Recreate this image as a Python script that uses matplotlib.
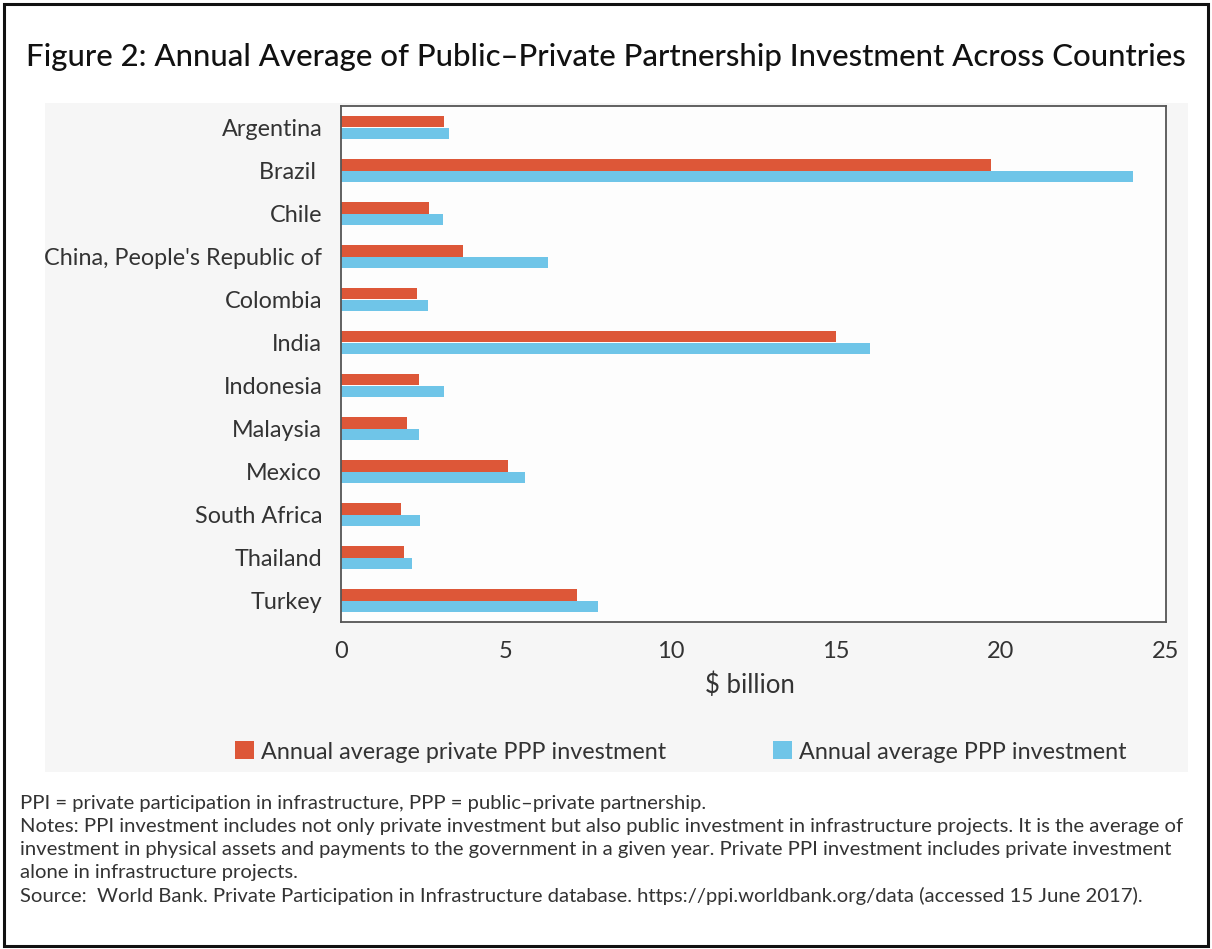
import matplotlib
matplotlib.use("Agg")
import matplotlib.pyplot as plt
from matplotlib.patches import Rectangle
import numpy as np

countries = ["Argentina", "Brazil ", "Chile", "China, People's Republic of", "Colombia",
             "India", "Indonesia", "Malaysia", "Mexico", "South Africa", "Thailand", "Turkey"]
private_ppp = [3.13, 19.7, 2.66, 3.69, 2.29, 15.0, 2.37, 2.0, 5.07, 1.83, 1.92, 7.15]
total_ppp = [3.26, 24.0, 3.1, 6.28, 2.65, 16.04, 3.11, 2.37, 5.59, 2.39, 2.16, 7.78]
xticks = [0, 5, 10, 15, 20, 25]

title = "Figure 2: Annual Average of Public\u2013Private Partnership Investment Across Countries"
legend_labels = ["Annual average private PPP investment", "Annual average PPP investment"]
notes = [
    "PPI = private participation in infrastructure, PPP = public\u2013private partnership.",
    "Notes: PPI investment includes not only private investment but also public investment in infrastructure projects. It is the average of",
    "investment in physical assets and payments to the government in a given year. Private PPI investment includes private investment",
    "alone in infrastructure projects.",
    "Source:  World Bank. Private Participation in Infrastructure database. https://ppi.worldbank.org/data (accessed 15 June 2017).",
]

RED = "#DD5738"
BLUE = "#6FC5E8"
TXT = "#333333"

plt.rcParams['font.family'] = ['Lato', 'DejaVu Sans']

W, H = 1212, 949
fig = plt.figure(figsize=(W / 100, H / 100), dpi=100)
fig.patch.set_facecolor("white")

def fx(px):
    return px / W

def fy(py):
    return 1 - py / H

# outer frame
fig.add_artist(Rectangle((fx(4), fy(946)), fx(1208) - fx(4), fy(4) - fy(946),
                         transform=fig.transFigure, fill=False, edgecolor="#111111", lw=2.2))
# light grey panel behind chart
fig.add_artist(Rectangle((fx(45), fy(772)), fx(1188) - fx(45), fy(103) - fy(772),
                         transform=fig.transFigure, facecolor="#f6f6f6", edgecolor="none", zorder=0))

fig.text(0.5, fy(57), title, ha="center", va="center", fontsize=22.4, color="#111111",
         fontweight="medium")

ax = fig.add_axes([fx(341), fy(622), fx(1166) - fx(341), fy(106) - fy(622)])
ax.set_facecolor("#fdfdfd")
y = np.arange(len(countries))
h = 0.27
ax.barh(y - h / 2, private_ppp, height=h, color=RED, label=legend_labels[0])
ax.barh(y + h / 2, total_ppp, height=h, color=BLUE, label=legend_labels[1])
ax.set_ylim(len(countries) - 0.5, -0.5)
ax.set_xlim(0, 25)
ax.set_yticks(y)
ax.set_yticklabels(countries, fontsize=16.8, color=TXT)
ax.set_xticks(xticks)
ax.set_xticklabels([str(t) for t in xticks], fontsize=17, color=TXT)
ax.tick_params(axis="both", length=0)
ax.tick_params(axis="y", pad=13.5)
ax.tick_params(axis="x", pad=14)
for s in ax.spines.values():
    s.set_color("#555555")
    s.set_linewidth(1.3)
ax.set_xlabel("$ billion", fontsize=18.5, color=TXT)
ax.xaxis.set_label_coords((750 - 341) / (1166 - 341), -(685 - 622) / (622 - 106), transform=ax.transAxes)
ax.xaxis.label.set_va("center")

leg = fig.legend(loc="center left", bbox_to_anchor=(fx(214), fy(752)), ncol=2, frameon=False,
                 fontsize=16.8, handlelength=0.8, handleheight=0.8, handletextpad=0.3,
                 columnspacing=4.6, labelcolor=TXT)

for i, line in enumerate(notes):
    fig.text(fx(20), fy(803 + 23.2 * i), line, ha="left", va="center", fontsize=14.6, color=TXT)

fig.savefig("out.png", dpi=100)
